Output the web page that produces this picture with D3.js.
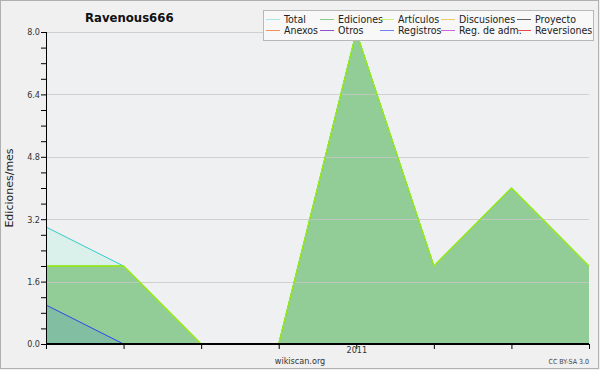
<!DOCTYPE html>
<html><head><meta charset="utf-8">
<script src="https://cdn.jsdelivr.net/npm/d3@7"></script>
<style>body{margin:0;background:#f0f0f0;}svg{display:block;font-family:"DejaVu Sans",sans-serif;}</style>
</head><body><svg id="c" width="600" height="370"></svg>
<script>
const months = ["2010-09","2010-10","2010-11","2010-12","2011-01","2011-02","2011-03","2011-04"];
const xLabels = {"2011-01":"2011"};
const total = [3,2,0,0,8,2,4,2];
const ediciones = [2,2,0,0,8,2,4,2];
const articulos = [2,2,0,0,8,2,4,2];
const registros = [1,0,0,0,0,0,0,0];
const yTicks = [0,1.6,3.2,4.8,6.4,8.0];
const legendNames = ["Total","Ediciones","Artículos","Discusiones","Proyecto","Anexos","Otros","Registros","Reg. de adm.","Reversiones"];
const legendColors = ["#a8e6e6","#88cc90","#ccf070","#f0cc60","#606060","#f09060","#9050cc","#7080f0","#cc66dd","#e84848"];

const svg = d3.select("#c");
svg.append("rect").attr("x",0.5).attr("y",0.5).attr("width",598).attr("height",368).attr("fill","#f0f0f0").attr("stroke","#b0b0b0");
const L=46,R=589,T=32,B=344;
const x = d3.scalePoint().domain(months).range([L,R]);
const y = d3.scaleLinear().domain([0,8]).range([B,T]);
svg.append("rect").attr("x",L).attr("y",T).attr("width",R-L).attr("height",B-T).attr("fill","#eff0f2");

function area(vals){return d3.area().x((d,i)=>x(months[i])).y0(B).y1(d=>y(d))(vals);}
function line(vals){return d3.line().x((d,i)=>x(months[i])).y(d=>y(d))(vals);}

svg.append("path").attr("d",area(total)).attr("fill","#d9f1ea");
svg.append("path").attr("d",area(ediciones)).attr("fill","#92cc96");
svg.append("path").attr("d",area(registros)).attr("fill","#82bfa2");

// grid
const g = svg.append("g");
yTicks.forEach(t=>{ if(t>0) g.append("line").attr("x1",L).attr("x2",R).attr("y1",Math.round(y(t))+0.5).attr("y2",Math.round(y(t))+0.5).attr("stroke","#c8c8c8").attr("stroke-opacity",0.8);});

svg.append("path").attr("d",line(total)).attr("fill","none").attr("stroke","#38c8c8").attr("stroke-width",1);
svg.append("path").attr("d",line(ediciones)).attr("fill","none").attr("stroke","#66bb66").attr("stroke-width",1);
svg.append("path").attr("d",line(articulos)).attr("fill","none").attr("stroke","#99ee11").attr("stroke-width",1.3);
svg.append("path").attr("d",line(registros)).attr("fill","none").attr("stroke","#3344ee").attr("stroke-width",1);

// y axis
const ya = svg.append("g").attr("transform",`translate(${L},0)`)
  .call(d3.axisLeft(y).tickValues(d3.range(0,8.01,0.4)).tickSize(5).tickFormat(d=>yTicks.some(t=>Math.abs(t-d)<1e-6)?d3.format(".1f")(d):""));
ya.select(".domain").attr("stroke","#000").attr("d",`M0.5,${T}V${B}`);
ya.selectAll("text").attr("font-size",9).attr("fill","#333").attr("x",-6).attr("font-family","DejaVu Sans Condensed, DejaVu Sans");
// x axis
const xa = svg.append("g").attr("transform",`translate(0,${B})`)
  .call(d3.axisBottom(x).tickSize(5).tickFormat(d=>xLabels[d]||""));
xa.select(".domain").attr("stroke","#000").attr("d",`M${L},0H${R}`).attr("stroke-width",2);
xa.selectAll("text").attr("font-size",9).attr("fill","#333").attr("y",3).attr("font-family","DejaVu Sans Condensed, DejaVu Sans");

svg.append("text").attr("transform","translate(13,188) rotate(-90)").attr("text-anchor","middle").attr("font-size",11).attr("fill","#222").text("Ediciones/mes");
svg.append("text").attr("x",85).attr("y",22).attr("font-size",13).attr("font-weight","bold").attr("fill","#111").attr("font-family","DejaVu Sans Condensed, DejaVu Sans").text("Ravenous666");
svg.append("text").attr("x",300).attr("y",364).attr("text-anchor","middle").attr("font-size",9).attr("fill","#333").attr("font-family","DejaVu Sans Condensed, DejaVu Sans").text("wikiscan.org");
svg.append("text").attr("x",589).attr("y",364).attr("text-anchor","end").attr("font-size",7).attr("fill","#444").attr("font-family","DejaVu Sans Condensed, DejaVu Sans").text("CC BY-SA 3.0");

// legend
const lg = svg.append("g");
lg.append("rect").attr("x",263.5).attr("y",10.5).attr("width",330).attr("height",30).attr("fill","#f8f8f8").attr("stroke","#b8b8b8");
const colX=[266,320,380,441,517];
legendNames.forEach((n,i)=>{
  const c=i%5,r=Math.floor(i/5);
  const yy = 19 + r*11;
  lg.append("line").attr("x1",colX[c]).attr("x2",colX[c]+14).attr("y1",yy+0.5).attr("y2",yy+0.5).attr("stroke",legendColors[i]);
  lg.append("text").attr("x",colX[c]+18).attr("y",yy+4).attr("font-size",10.5).attr("fill","#222").attr("font-family","DejaVu Sans Condensed, DejaVu Sans").text(n);
});
</script></body></html>
